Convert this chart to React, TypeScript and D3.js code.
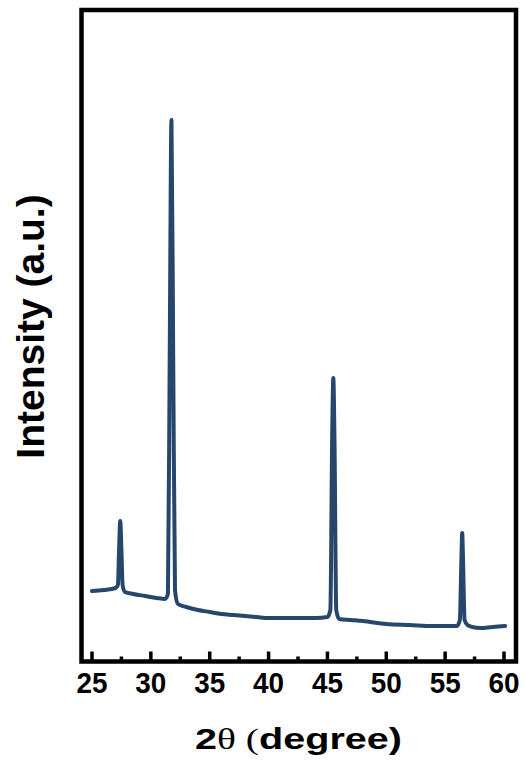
import React from "react";
import * as d3 from "d3";

const twoTheta = [
  25.0, 26.0, 27.0, 27.2, 27.3, 27.4, 27.5, 27.6, 27.8, 28.5, 29.5, 30.5, 31.2,
  31.45, 31.6, 31.75, 31.9, 32.05, 32.3, 33, 34, 35, 36, 37, 38, 39, 40, 42, 44,
  45.0, 45.25, 45.4, 45.5, 45.6, 45.75, 46.0, 47, 48, 50, 52, 54, 56.0, 56.25,
  56.38, 56.45, 56.52, 56.65, 56.9, 57.3, 58, 59, 60.1,
];
const intensity = [
  69, 70, 72, 75, 110, 139, 110, 75, 68, 66, 64, 62, 61,
  66, 300, 540, 300, 70, 56, 53, 50, 48, 46, 45, 44, 43, 42, 42, 42,
  43, 50, 220, 282, 220, 50, 41, 40, 39, 36, 35, 34, 34, 40,
  100, 127, 100, 40, 35, 33, 32, 33, 34,
];
const majorTicks = [25, 30, 35, 40, 45, 50, 55, 60];
const minorTicks = [27.5, 32.5, 37.5, 42.5, 47.5, 52.5, 57.5];

export default function App() {
  const W = 525;
  const H = 769;
  const x = d3.scaleLinear().domain([25, 60]).range([92, 504]);
  const y = d3.scaleLinear().domain([0, 650]).range([660, 10]);
  const data = twoTheta.map((t, i) => [t, intensity[i]] as [number, number]);
  const line = d3
    .line<[number, number]>()
    .x((d) => x(d[0]))
    .y((d) => y(d[1]))
    .curve(d3.curveMonotoneX);
  const font = "'Liberation Sans', Arial, sans-serif";
  const serif = "'Liberation Serif', 'Times New Roman', serif";
  const bottom = 661.5;
  return (
    <svg
      width={W}
      height={H}
      style={{ position: "absolute", left: 0, top: 0, background: "#fff" }}
    >
      <rect x={81.5} y={10} width={434.5} height={651.5} fill="none" stroke="#000" strokeWidth={4.5} />
      {majorTicks.map((t) => (
        <line key={"M" + t} x1={x(t)} x2={x(t)} y1={bottom} y2={bottom - 10} stroke="#000" strokeWidth={3.5} />
      ))}
      {minorTicks.map((t) => (
        <line key={"m" + t} x1={x(t)} x2={x(t)} y1={bottom} y2={bottom - 5} stroke="#000" strokeWidth={3.5} />
      ))}
      {majorTicks.map((t) => (
        <text
          key={"l" + t}
          x={x(t)}
          y={693}
          textAnchor="middle"
          fontFamily={font}
          fontWeight="bold"
          fontSize={29.5}
          textLength={31}
          lengthAdjust="spacingAndGlyphs"
        >
          {t}
        </text>
      ))}
      <path d={line(data) || ""} fill="none" stroke="#27466b" strokeWidth={4} strokeLinejoin="round" strokeLinecap="round" />
      <text
        x={298.5}
        y={749}
        textAnchor="middle"
        fontFamily={font}
        fontWeight="bold"
        fontSize={30}
        textLength={207}
        lengthAdjust="spacingAndGlyphs"
      >
        2<tspan fontFamily={serif} fontWeight="normal">θ (</tspan>degree)
      </text>
      <text
        transform="translate(44,326.5) rotate(-90)"
        textAnchor="middle"
        fontFamily={font}
        fontWeight="bold"
        fontSize={39}
      >
        Intensity (a.u.)
      </text>
    </svg>
  );
}
